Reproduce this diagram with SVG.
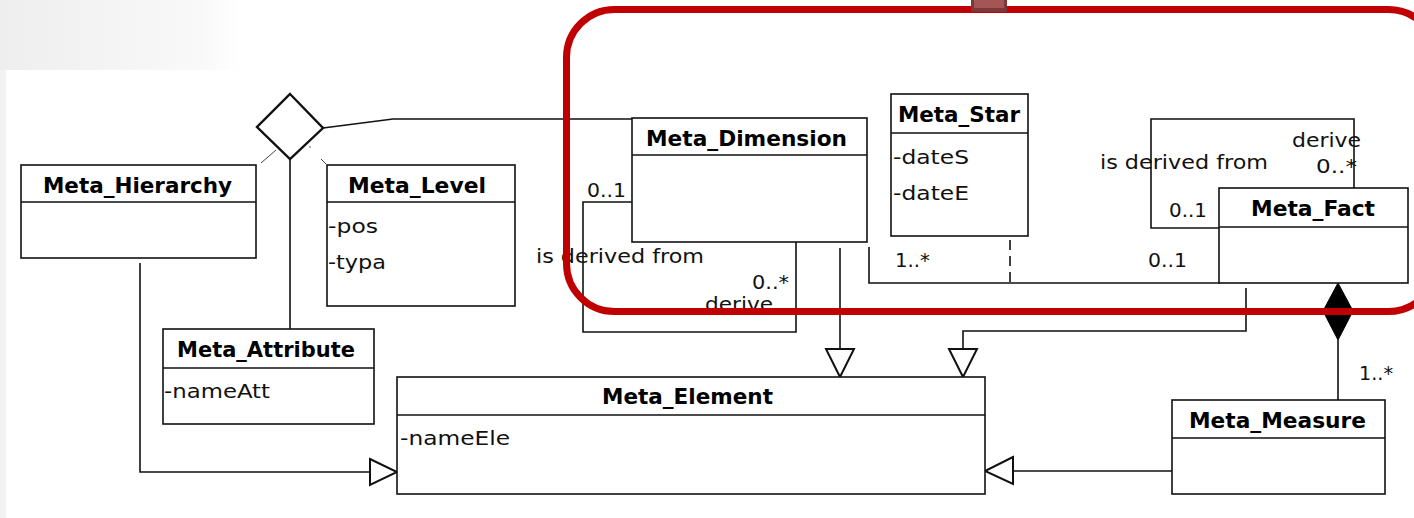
<svg xmlns="http://www.w3.org/2000/svg" width="1414" height="518" viewBox="0 0 1414 518">
  <defs>
    <linearGradient id="bgFade" x1="0" y1="0" x2="1" y2="0">
      <stop offset="0" stop-color="#eeeeee"/>
      <stop offset="0.85" stop-color="#f9f9f9"/>
      <stop offset="1" stop-color="#ffffff"/>
    </linearGradient>
    <style>
      .box { fill: #ffffff; stroke: #111111; stroke-width: 1.6; }
      .sep { stroke: #111111; stroke-width: 1.6; }
      .title { font-family: "DejaVu Sans", "Liberation Sans", sans-serif; font-weight: bold; font-size: 21.5px; fill: #000000; }
      .attr { font-family: "DejaVu Sans", "Liberation Sans", sans-serif; font-size: 20px; fill: #111111; }
      .lbl { font-family: "DejaVu Sans", "Liberation Sans", sans-serif; font-size: 20px; fill: #111111; }
      .line { fill: none; stroke: #111111; stroke-width: 1.6; }
      .thin { fill: none; stroke: #444444; stroke-width: 1; }
      .dash { fill: none; stroke: #111111; stroke-width: 1.6; stroke-dasharray: 10 6; }
      .gen { fill: #ffffff; stroke: #111111; stroke-width: 2; stroke-linejoin: miter; }
      .agg { fill: #ffffff; stroke: #111111; stroke-width: 2.4; }
      .comp { fill: #000000; stroke: #000000; stroke-width: 1; }
      .focus { fill: none; stroke: #c00000; stroke-width: 7; }
    </style>
  </defs>

  <!-- page background -->
  <rect x="0" y="0" width="1414" height="518" fill="#ffffff"/>
  <rect x="0" y="0" width="240" height="70" fill="url(#bgFade)"/>
  <rect x="0" y="70" width="6" height="448" fill="#f1f1f1"/>

  <!-- connectors -->
  <g id="connectors">
    <!-- aggregation: hierarchy / level / attribute / dimension -->
    <polyline class="line" points="323,128 393,119 632,119"/>
    <line class="line" x1="290" y1="159" x2="290" y2="329"/>
    <line class="thin" x1="261" y1="163" x2="276" y2="150"/>
    <line class="thin" x1="321" y1="159" x2="326" y2="164"/>
    <circle cx="310" cy="147" r="0.8" fill="#444444"/>
    <polygon class="agg" points="290,94 323,128 290,159 257,127"/>

    <!-- Meta_Hierarchy generalizes to Meta_Element -->
    <polyline class="line" points="140,263 140,472 370,472"/>
    <polygon class="gen" points="370,459 397,472 370,485"/>

    <!-- Meta_Dimension self association -->
    <polyline class="line" points="632,202 583,202 583,332 796,332 796,237"/>

    <!-- Meta_Dimension generalizes to Meta_Element -->
    <line class="line" x1="840" y1="248" x2="840" y2="349"/>
    <polygon class="gen" points="826,349 854,349 840,377"/>

    <!-- Meta_Dimension to Meta_Fact association, with Meta_Star as class link -->
    <polyline class="line" points="869,247 869,283 1220,283"/>
    <line class="dash" x1="1010" y1="240" x2="1010" y2="283"/>

    <!-- Meta_Fact self association -->
    <polyline class="line" points="1219,228 1151,228 1151,119 1354,119 1354,188"/>

    <!-- Meta_Fact generalizes to Meta_Element -->
    <polyline class="line" points="1246,288 1246,331 963,331 963,349"/>
    <polygon class="gen" points="949,349 977,349 963,377"/>

    <!-- composition: Meta_Fact owns Meta_Measure -->
    <line class="line" x1="1338" y1="340" x2="1338" y2="400"/>
    <polygon class="comp" points="1338,283 1353,311 1338,340 1323,311"/>

    <!-- Meta_Measure generalizes to Meta_Element -->
    <line class="line" x1="1172" y1="471" x2="1013" y2="471"/>
    <polygon class="gen" points="1013,457 985,471 1013,484"/>

    <!-- association labels -->
    <text class="lbl" x="587" y="197" textLength="39" lengthAdjust="spacingAndGlyphs">0..1</text>
    <text class="lbl" x="536" y="263" textLength="168" lengthAdjust="spacingAndGlyphs">is derived from</text>
    <text class="lbl" x="752" y="289" textLength="37" lengthAdjust="spacingAndGlyphs">0..*</text>
    <text class="lbl" x="705" y="311" textLength="68" lengthAdjust="spacingAndGlyphs">derive</text>
    <text class="lbl" x="895" y="267" textLength="35" lengthAdjust="spacingAndGlyphs">1..*</text>
    <text class="lbl" x="1148" y="267" textLength="39" lengthAdjust="spacingAndGlyphs">0..1</text>
    <text class="lbl" x="1100" y="169" textLength="168" lengthAdjust="spacingAndGlyphs">is derived from</text>
    <text class="lbl" x="1292" y="147" textLength="69" lengthAdjust="spacingAndGlyphs">derive</text>
    <text class="lbl" x="1316" y="173" textLength="41" lengthAdjust="spacingAndGlyphs">0..*</text>
    <text class="lbl" x="1169" y="217" textLength="38" lengthAdjust="spacingAndGlyphs">0..1</text>
    <text class="lbl" x="1359" y="380" textLength="34" lengthAdjust="spacingAndGlyphs">1..*</text>
  </g>

  <!-- classes -->
  <g id="meta-hierarchy">
    <rect class="box" x="21" y="165" width="235" height="93"/>
    <line class="sep" x1="21" y1="202" x2="256" y2="202"/>
    <text class="title" x="43" y="193" textLength="189" lengthAdjust="spacingAndGlyphs">Meta_Hierarchy</text>
  </g>

  <g id="meta-level">
    <rect class="box" x="327" y="165" width="188" height="141"/>
    <line class="sep" x1="327" y1="202" x2="515" y2="202"/>
    <text class="title" x="348" y="193" textLength="138" lengthAdjust="spacingAndGlyphs">Meta_Level</text>
    <text class="attr" x="328" y="233" textLength="50" lengthAdjust="spacingAndGlyphs">-pos</text>
    <text class="attr" x="328" y="269" textLength="58" lengthAdjust="spacingAndGlyphs">-typa</text>
  </g>

  <g id="meta-attribute">
    <rect class="box" x="163" y="329" width="211" height="95"/>
    <line class="sep" x1="163" y1="368" x2="374" y2="368"/>
    <text class="title" x="177" y="357" textLength="178" lengthAdjust="spacingAndGlyphs">Meta_Attribute</text>
    <text class="attr" x="164" y="398" textLength="106" lengthAdjust="spacingAndGlyphs">-nameAtt</text>
  </g>

  <g id="meta-dimension">
    <rect class="box" x="632" y="118" width="235" height="124"/>
    <line class="sep" x1="632" y1="155" x2="867" y2="155"/>
    <text class="title" x="646" y="146" textLength="201" lengthAdjust="spacingAndGlyphs">Meta_Dimension</text>
  </g>

  <g id="meta-star">
    <rect class="box" x="891" y="94" width="137" height="142"/>
    <line class="sep" x1="891" y1="133" x2="1028" y2="133"/>
    <text class="title" x="898" y="122" textLength="122" lengthAdjust="spacingAndGlyphs">Meta_Star</text>
    <text class="attr" x="893" y="164" textLength="76" lengthAdjust="spacingAndGlyphs">-dateS</text>
    <text class="attr" x="893" y="200" textLength="76" lengthAdjust="spacingAndGlyphs">-dateE</text>
  </g>

  <g id="meta-fact">
    <rect class="box" x="1219" y="188" width="189" height="95"/>
    <line class="sep" x1="1219" y1="227" x2="1408" y2="227"/>
    <text class="title" x="1251" y="216" textLength="124" lengthAdjust="spacingAndGlyphs">Meta_Fact</text>
  </g>

  <g id="meta-element">
    <rect class="box" x="397" y="377" width="588" height="117"/>
    <line class="sep" x1="397" y1="415" x2="985" y2="415"/>
    <text class="title" x="602" y="404" textLength="171" lengthAdjust="spacingAndGlyphs">Meta_Element</text>
    <text class="attr" x="400" y="445" textLength="110" lengthAdjust="spacingAndGlyphs">-nameEle</text>
  </g>

  <g id="meta-measure">
    <rect class="box" x="1172" y="400" width="213" height="94"/>
    <line class="sep" x1="1172" y1="438" x2="1385" y2="438"/>
    <text class="title" x="1189" y="428" textLength="177" lengthAdjust="spacingAndGlyphs">Meta_Measure</text>
  </g>

  <!-- red highlight frame around the star part -->
  <rect class="focus" x="566.5" y="9.5" width="870" height="302" rx="48" ry="48"/>
  <rect x="971" y="0" width="36" height="12" fill="#7a3838"/>
  <rect x="974" y="0" width="30" height="8" fill="#a45656"/>
</svg>
